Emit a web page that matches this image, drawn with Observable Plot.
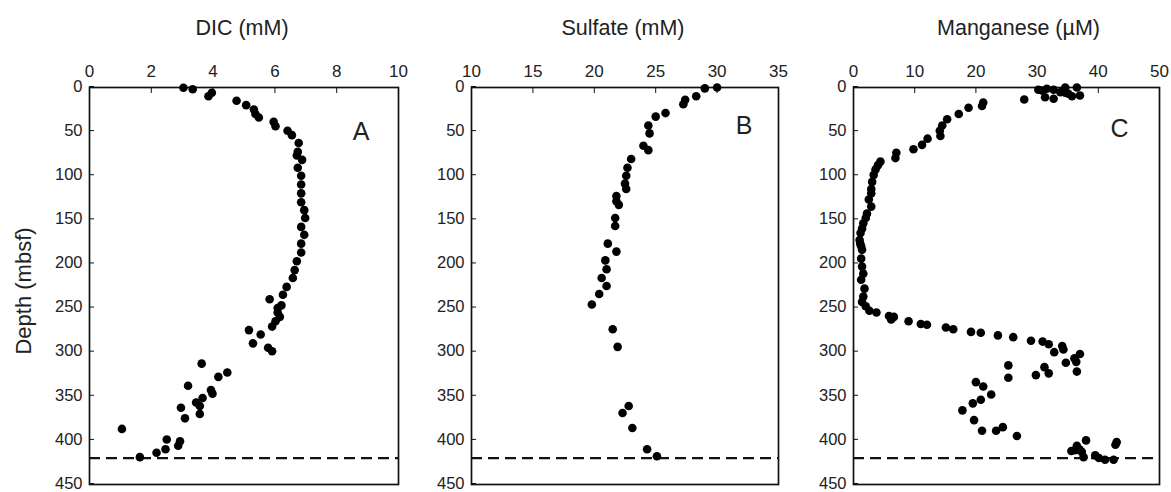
<!DOCTYPE html>
<html><head><meta charset="utf-8">
<script src="https://cdn.jsdelivr.net/npm/d3@7"></script>
<script src="https://cdn.jsdelivr.net/npm/@observablehq/plot@0.6"></script>
<style>
body{margin:0;background:#fff;}
#wrap{position:relative;width:1171px;height:492px;overflow:hidden;}
#wrap > div{position:absolute;top:0;}
</style></head><body><div id="wrap"></div>
<script>
// ---- Data ----
const depthTicks = [0, 50, 100, 150, 200, 250, 300, 350, 400, 450];
const dicTicks = [0, 2, 4, 6, 8, 10];
const sulfateTicks = [10, 15, 20, 25, 30, 35];
const mnTicks = [0, 10, 20, 30, 40, 50];
const boundaryDepth = [420];

const dicValue = [3.04,3.34,3.85,3.96,4.76,5.07,5.32,5.37,5.48,5.96,6.02,6.41,6.55,6.77,6.74,6.71,6.88,6.74,6.85,6.85,6.85,6.85,6.95,6.98,6.85,6.95,6.85,6.85,6.71,6.64,6.58,6.38,6.26,5.83,6.21,6.09,6.09,6.16,6.02,5.91,5.16,5.54,5.29,5.78,5.91,3.63,4.46,4.17,3.19,3.93,3.98,3.66,3.45,3.57,2.96,3.57,3.09,1.05,2.5,2.93,2.87,2.46,2.17,1.63];
const dicDepth = [0.3,2,10,6,15,20,25,30,34,39,44,49,54,63,73,77,82,91,100,110,120,130,139,148,158,167,177,187,197,207,216,226,235,240,247,250,255,260,265,271,275,280,290,295,299,313,323,328,338,343,347,352,357,361,363,370,375,387,399,401,406,410,414,419];

const sulfateValue = [30.0,29.0,28.3,27.4,27.25,25.8,25.0,24.4,24.5,24.0,24.4,23.0,22.7,22.6,22.5,22.6,21.8,21.8,22.0,21.7,21.7,21.1,21.8,20.9,21.0,20.6,21.0,20.4,19.8,21.5,21.9,22.8,22.3,23.1,24.3,25.1];
const sulfateDepth = [0,1,10,14,19,29,33,43,52,66,71,81,91,100,109,115,123,129,133,148,157,177,186,196,206,216,225,234,246,274,294,361,369,386,410,418];

const mnValue = [27.9,30.2,30.8,31.6,32.7,31.3,32.7,33.8,34.6,35.1,35.7,36.5,37.0,34.6,
  21.2,21.0,18.8,17.2,15.3,14.5,14.1,14.2,12.1,11.2,9.8,7.0,6.85,4.4,4.0,3.6,3.3,3.05,2.9,2.9,2.5,2.9,2.2,2.0,1.6,1.4,1.15,1.0,1.25,
  1.1,1.4,1.25,1.4,1.6,1.25,1.8,1.6,1.4,2.0,2.6,3.75,5.8,6.6,6.15,9.0,11.0,12.0,15.1,16.3,19.2,20.8,23.6,26.1,29.0,30.9,31.9,32.8,34.1,34.3,34.7,36.1,36.4,37.0,36.5,
  25.3,25.3,29.8,31.2,31.9,20.0,21.2,22.5,20.8,19.5,17.8,19.7,21.0,23.3,24.4,26.7,
  35.6,36.2,36.5,36.9,38.0,37.3,37.6,39.5,40.1,41.1,42.5,42.8,43.0];
const mnDepth = [13.6,2.6,3.4,1.5,2.6,11,12.8,5.3,0,7,10,0,9,6,
  17,21,23,30,36,43,49,55,58,65,70,74,80,84,88,93,99,107,115,120,127,135,143,148,154,160,165,173,180,
  177,184,194,203,211,218,228,237,243,248,253,255,259,260,263,265,268,269,272,274,277,278,281,283,287,288,291,300,293,297,312,307,311,302,322,
  315,329,326,317,324,334,339,348,354,358,366,377,389,389,385,395,
  412,411,406,410,400,413,419,417,420,422,422,405,402];

const FONT = '"Liberation Sans", Arial, Helvetica, sans-serif';

function rows(xs, ys) { return xs.map((v, i) => ({v, d: ys[i]})); }

function panel(o) {
  const data = rows(o.value, o.depth);
  const marks = [
    Plot.frame({stroke: "#111", strokeWidth: 1.7}),
    Plot.axisX(o.xTicks, {anchor: "top", tickSize: -5, tickPadding: 15.5, fontSize: 17, stroke: "#111", fill: "#222"}),
    Plot.axisY(depthTicks, {anchor: "left", tickSize: -5, tickPadding: 12, fontSize: 16.5, dy: -1, stroke: "#111", fill: "#222"}),
    Plot.ruleY(boundaryDepth, {stroke: "#111", strokeWidth: 2.3, strokeDasharray: "11,6"}),
    Plot.dot(data, {x: "v", y: "d", r: 4.3, fill: "#000", stroke: "none"}),
    Plot.text([o.letter], {frameAnchor: "top-right", dx: o.letterDx, dy: o.letterDy, fontSize: 25, fill: "#222"}),
    Plot.text([o.title], {frameAnchor: "top", dx: o.titleDx, dy: -59, lineAnchor: "middle", fontSize: 21.5, fill: "#222"})
  ];
  if (o.depthLabel) {
    marks.push(Plot.text([o.depthLabel], {frameAnchor: "left", dx: -66, dy: 5, rotate: -90, textAnchor: "middle", lineAnchor: "middle", fontSize: 22, fill: "#222"}));
  }
  const chart = Plot.plot({
    width: o.width,
    height: 492,
    marginLeft: o.marginLeft,
    marginRight: o.marginRight,
    marginTop: 87,
    marginBottom: 8,
    style: {fontFamily: FONT, background: "transparent", overflow: "visible"},
    x: {domain: o.xDomain, label: null},
    y: {domain: [0, 450], reverse: true, label: null},
    marks
  });
  const div = document.createElement("div");
  div.style.left = o.left + "px";
  div.appendChild(chart);
  document.getElementById("wrap").appendChild(div);
}

panel({left: 0, width: 408, marginLeft: 89, marginRight: 10, xDomain: [0, 10], xTicks: dicTicks,
  value: dicValue, depth: dicDepth, title: "DIC (mM)", titleDx: -2, letter: "A", letterDx: -29, letterDy: 35, depthLabel: "Depth (mbsf)"});
panel({left: 408, width: 380, marginLeft: 63, marginRight: 10, xDomain: [10, 35], xTicks: sulfateTicks,
  value: sulfateValue, depth: sulfateDepth, title: "Sulfate (mM)", titleDx: -2, letter: "B", letterDx: -26, letterDy: 29});
panel({left: 788, width: 383, marginLeft: 65, marginRight: 12, xDomain: [0, 50], xTicks: mnTicks,
  value: mnValue, depth: mnDepth, title: "Manganese (µM)", titleDx: 12, letter: "C", letterDx: -31, letterDy: 32});
</script>
</body></html>
